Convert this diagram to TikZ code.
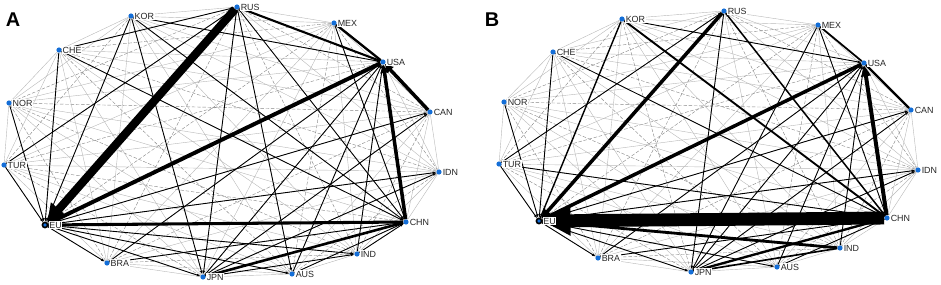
\documentclass[tikz,border=0pt]{standalone}
\usepackage{fontspec}
\setmainfont{Liberation Sans}
\usetikzlibrary{arrows.meta,backgrounds}
\definecolor{dotblue}{RGB}{20,110,215}

\begin{document}
\begin{tikzpicture}[x=0.03cm,y=-0.03cm,
  dot/.style={circle,fill=dotblue,inner sep=0pt,minimum size=4.4pt},
  hub/.style={dot,draw=black,line width=1.4pt},
  lb/.style={font=\fontsize{7.6}{8}\selectfont,inner sep=0.6pt,fill=white,text=black!85},
  pan/.style={font=\fontsize{17}{18}\selectfont\bfseries},
  thn/.style={gray!55,line width=0.35pt},
  dsh/.style={gray!95,line width=0.35pt,dash pattern=on 3pt off 1.5pt},
  blk/.style={black,line width=0.75pt,-{Latex[length=3pt,width=2.4pt]}},
  hv/.style={black,line width=#1}]
\useasboundingbox (0,0) rectangle (941,285);

\node[pan] (labA) at (13,20) {A};
\node[pan] (labB) at (492,20) {B};

\foreach \n/\x/\y/\t in {1/237/7/RUS,2/334/23/MEX,3/383/62/USA,4/430/112/CAN,5/439/172/IDN,
  6/406/222/CHN,7/357/254/IND,8/292/274/AUS,9/203/277/JPN,10/107/263/BRA,
  12/4/165/TUR,13/9/103/NOR,14/59/50/CHE,15/131/16/KOR}
  \node[dot,label={[lb]right:\t}] (a\n) at (\x,\y) {};
\node[hub,label={[lb]right:EU}] (a11) at (45,225) {};

\foreach \n/\x/\y/\t in {1/724/11/RUS,2/818/25/MEX,3/864/63/USA,4/911/110/CAN,5/918/170/IDN,
  6/887/218/CHN,7/840/248/IND,8/777/267/AUS,9/691/272/JPN,10/598/258/BRA,
  12/499/164/TUR,13/504/102/NOR,14/553/52/CHE,15/622/19/KOR}
  \node[dot,label={[lb]right:\t}] (b\n) at (\x,\y) {};
\node[hub,label={[lb]right:EU}] (b11) at (539,221) {};

\begin{scope}[on background layer]
\foreach \p in {a,b}{
  \foreach \i in {1,...,14}{
    \pgfmathtruncatemacro\k{\i+1}
    \foreach \j in {\k,...,15}{
      \pgfmathtruncatemacro\m{mod(\i+2*\j,3)}
      \ifnum\m=0 \draw[dsh] (\p\i) -- (\p\j); \else \draw[thn] (\p\i) -- (\p\j); \fi
    }}}

\foreach \s/\t in {1/9,1/6,12/1,14/1,1/8,15/3,15/6,15/9,15/11,14/11,12/11,13/11,
  11/10,11/9,11/8,11/7,9/3,8/3,7/3,10/3,9/4,11/4,9/5,11/5,10/6,8/6,7/6,2/6,14/6,9/7}
  \draw[blk] (a\s) -- (a\t);
\foreach \s/\t in {1/9,15/3,14/11,12/11,13/11,11/10,11/9,11/8,9/3,8/3,7/3,
  10/6,8/6,12/6,2/6,9/4,11/4,11/5,14/6,9/5,12/1,10/3,2/9}
  \draw[blk] (b\s) -- (b\t);

\draw[hv=1.8pt] (a1) -- (a3);
\draw[hv=2pt] (a2) -- (a3);
\draw[hv=2.2pt] (a9) -- (a6);
\draw[hv=2.6pt,-{Triangle[length=7pt,width=7pt]}] (a6) -- (a11);
\draw[hv=3pt,-{Triangle[length=7pt,width=7pt]}] (a6) -- (a3);
\draw[hv=3pt,-{Triangle[length=7pt,width=7pt]}] (a4) -- (a3);
\draw[hv=3.4pt,-{Triangle[length=10pt,width=9pt]}] (a3) -- (a11);
\draw[hv=7pt,-{Triangle[length=15pt,width=17pt]}] (a1) -- (a11);

\draw[hv=1.5pt] (b2) -- (b3);
\draw[hv=2pt] (b4) -- (b3);
\draw[hv=1.2pt] (b15) -- (b11);
\draw[hv=1.6pt] (b15) -- (b6);
\draw[hv=1.3pt] (b1) -- (b6);
\draw[hv=1.4pt] (b9) -- (b7);
\draw[hv=2pt] (b9) -- (b6);
\draw[hv=2.4pt] (b11) -- (b7);
\draw[hv=3.4pt,-{Triangle[length=9pt,width=8pt]}] (b6) -- (b3);
\draw[hv=3pt,-{Triangle[length=8pt,width=8pt]}] (b1) -- (b11);
\draw[hv=3pt,-{Triangle[length=8pt,width=8pt]}] (b3) -- (b11);
\draw[hv=11pt,-{Triangle[length=24pt,width=24pt]}] (b6) -- (b11);
\end{scope}
\end{tikzpicture}
\end{document}
